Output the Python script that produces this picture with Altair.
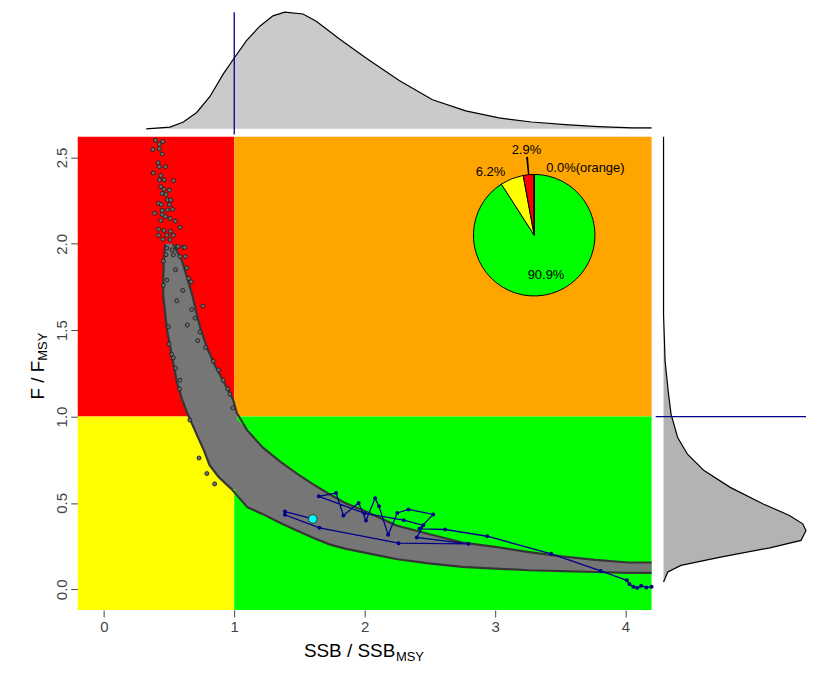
import math
import altair as alt
import pandas as pd

# ---------------- axes / layout constants ----------------
X_DOM = [-0.2, 4.2]
Y_DOM = [-0.12, 2.62]
W, H = 576, 475
TOP_H = 117
RIGHT_W = 143
FONT = "Liberation Sans"
NAVY = "#00008B"
CLOUD = "#767676"
EDGE = "#363636"
DENS_FILL = "#B3B3B3"

# ---------------- data ----------------
# Kobe quadrants
zone_names = ["red", "orange", "yellow", "green"]
zone_x0 = [-0.2, 1.0, -0.2, 1.0]
zone_x1 = [1.0, 4.2, 1.0, 4.2]
zone_y0 = [1.0, 1.0, -0.12, -0.12]
zone_y1 = [2.62, 2.62, 1.0, 1.0]
zone_fill = ["#FF0000", "#FFA500", "#FFFF00", "#00FF00"]

# MCMC cloud, steep (upper-left) part: SSB range for each F
steep_F = [2.0, 1.9, 1.8, 1.7, 1.6, 1.5, 1.4, 1.3, 1.2, 1.1, 1.02, 0.9, 0.8, 0.72, 0.65, 0.58]
steep_left = [0.47, 0.46, 0.455, 0.455, 0.47, 0.485, 0.51, 0.535, 0.56, 0.60, 0.64, 0.71, 0.77, 0.81, 0.88, 0.98]
steep_right = [0.53, 0.60, 0.64, 0.68, 0.71, 0.745, 0.79, 0.85, 0.92, 0.99, 1.02, 1.02, 1.02, 1.02, 1.02, 1.02]
N_STEEP_EDGE = 11  # right side is a real edge only down to F = 1.02

# MCMC cloud, flat (lower-right) part: F range for each SSB
flat_x = [1.0, 1.1, 1.22, 1.35, 1.48, 1.6, 1.73, 1.85, 1.98, 2.24, 2.49, 2.75, 3.0, 3.26, 3.51, 3.77, 4.02, 4.2]
flat_lower = [0.58, 0.475, 0.435, 0.385, 0.34, 0.30, 0.26, 0.235, 0.215, 0.175, 0.15, 0.13, 0.12, 0.11, 0.105, 0.10, 0.095, 0.095]
flat_upper = [1.0, 0.92, 0.82, 0.74, 0.67, 0.61, 0.55, 0.50, 0.46, 0.37, 0.32, 0.27, 0.245, 0.215, 0.19, 0.17, 0.155, 0.155]

# scattered MCMC points (top of the cloud and along its edges)
tip_x = [0.396, 0.426, 0.452, 0.376, 0.426, 0.447, 0.416, 0.426, 0.472, 0.38, 0.437, 0.426, 0.462, 0.533,
         0.437, 0.462, 0.503, 0.447, 0.477, 0.42, 0.487, 0.513, 0.44, 0.503, 0.39, 0.447, 0.487, 0.528,
         0.447, 0.472, 0.508, 0.548, 0.437, 0.584, 0.42, 0.462, 0.513, 0.42, 0.483, 0.533, 0.452, 0.508,
         0.564, 0.61, 0.483, 0.523, 0.477, 0.533, 0.584, 0.625, 0.57, 0.62, 0.67, 0.76, 0.65, 0.457, 0.55,
         0.66, 0.73, 0.79, 0.85, 0.64, 0.72,
         0.495, 0.533, 0.584, 0.457, 0.483, 0.674, 0.737, 0.839, 0.915, 0.966, 0.99, 0.605, 0.636, 0.559,
         0.50, 0.52, 0.55, 0.58, 0.70, 0.78, 0.88, 0.95]
tip_F = [2.60, 2.577, 2.593, 2.546, 2.55, 2.52, 2.47, 2.447, 2.447, 2.41, 2.396, 2.37, 2.37, 2.366,
         2.331, 2.316, 2.311, 2.292, 2.285, 2.235, 2.254, 2.254, 2.227, 2.227, 2.177, 2.193, 2.196, 2.20,
         2.17, 2.158, 2.147, 2.131, 2.135, 2.096, 2.085, 2.077, 2.073, 2.05, 2.05, 2.05, 2.027, 2.023,
         1.98, 1.98, 1.975, 1.965, 1.937, 1.937, 1.927, 1.927, 1.985, 1.98, 1.78, 1.64, 1.80, 1.76, 1.85,
         0.98, 0.76, 0.67, 0.61, 1.53, 1.44,
         1.52, 1.34, 1.21, 1.90, 1.79, 1.62, 1.49, 1.32, 1.21, 1.13, 1.05, 1.73, 1.86, 1.67,
         1.42, 1.36, 1.28, 1.16, 1.57, 1.40, 1.27, 1.16]

# stock trajectory (first year at the right)
traj_x = [4.20, 4.16, 4.12, 4.09, 4.06, 4.03, 4.01, 3.81, 3.43, 2.94, 2.617, 2.42, 2.525, 2.336, 2.25,
          2.18, 2.11, 2.08, 2.01, 1.954, 1.837, 1.781, 1.649, 2.0, 2.3, 2.45, 2.40, 2.795, 2.26, 1.654,
          1.389, 1.389, 1.603]
traj_F = [0.015, 0.010, 0.020, 0.008, 0.015, 0.030, 0.052, 0.106, 0.205, 0.307, 0.346, 0.35, 0.433, 0.462,
          0.442, 0.315, 0.48, 0.527, 0.398, 0.50, 0.427, 0.557, 0.538, 0.44, 0.40, 0.37, 0.30, 0.263,
          0.267, 0.356, 0.431, 0.450, 0.407]

# pie of probabilities
pie_zone = ["green", "yellow", "red", "orange"]
pie_pct = [90.9, 6.2, 2.9, 0.0]
pie_label = ["90.9%", "6.2%", "2.9%", "0.0%(orange)"]
PIE_X, PIE_Y = 3.30, 2.05

# marginal densities (relative heights)
top_ssb = [0.325, 0.508, 0.61, 0.712, 0.814, 0.915, 1.0, 1.094, 1.196, 1.297, 1.387, 1.527, 1.629,
           1.807, 2.01, 2.265, 2.52, 2.775, 3.03, 3.28, 3.54, 3.79, 4.05, 4.2]
top_dens = [0.0, 0.014, 0.058, 0.14, 0.277, 0.469, 0.607, 0.757, 0.88, 0.969, 1.0, 0.985, 0.922,
            0.771, 0.607, 0.414, 0.249, 0.154, 0.093, 0.058, 0.035, 0.019, 0.008, 0.008]
right_F = [2.62, 1.59, 1.32, 1.13, 1.013, 0.879, 0.782, 0.687, 0.59, 0.494, 0.427, 0.379, 0.34,
           0.283, 0.24, 0.186, 0.138, 0.10, 0.042]
right_dens = [0.0, 0.0, 0.011, 0.035, 0.053, 0.099, 0.168, 0.284, 0.468, 0.70, 0.884, 0.977, 1.0,
              0.965, 0.746, 0.40, 0.122, 0.03, 0.0]

REF_SSB = 1.0
REF_F = 1.0

# ---------------- tables ----------------
zones_df = pd.DataFrame({"zone": zone_names, "x0": zone_x0, "x1": zone_x1, "y0": zone_y0, "y1": zone_y1})
steep_df = pd.DataFrame({"F": steep_F, "left": steep_left, "right": steep_right})
flat_df = pd.DataFrame({"x": flat_x, "lower": flat_lower, "upper": flat_upper})

edge_rows = []
k = 0
for xv, fv in zip(steep_left, steep_F):
    edge_rows.append({"edge": "L", "i": k, "x": xv, "F": fv}); k += 1
for xv, fv in zip(flat_x[1:], flat_lower[1:]):
    edge_rows.append({"edge": "L", "i": k, "x": xv, "F": fv}); k += 1
k = 0
for xv, fv in zip(steep_right[:N_STEEP_EDGE], steep_F[:N_STEEP_EDGE]):
    edge_rows.append({"edge": "R", "i": k, "x": xv, "F": fv}); k += 1
for xv, fv in zip(flat_x[1:], flat_upper[1:]):
    edge_rows.append({"edge": "R", "i": k, "x": xv, "F": fv}); k += 1
edge_df = pd.DataFrame(edge_rows)

tip_df = pd.DataFrame({"x": tip_x, "F": tip_F})
traj_df = pd.DataFrame({"x": traj_x, "F": traj_F, "i": list(range(len(traj_x)))})
last_df = traj_df.tail(1)

cum = [0.0]
for p in pie_pct:
    cum.append(cum[-1] + p)
pie_df = pd.DataFrame({
    "zone": pie_zone, "pct": pie_pct, "label": pie_label,
    "t0": [2 * math.pi * c / 100 for c in cum[:-1]],
    "t1": [2 * math.pi * c / 100 for c in cum[1:]],
})
pie_df["mid"] = (pie_df["t0"] + pie_df["t1"]) / 2
lead_df = pie_df[pie_df["zone"] == "red"].copy()
lead_df["a0"] = lead_df["mid"] - 0.012
lead_df["a1"] = lead_df["mid"] + 0.012

top_df = pd.DataFrame({"s": top_ssb, "h": top_dens})
right_df = pd.DataFrame({"F": right_F, "h": right_dens})
right_df = right_df.sort_values("F").reset_index(drop=True)
right_df["base"] = 0.0

# ---------------- main panel ----------------
xs = alt.Scale(domain=X_DOM, nice=False, zero=False)
ys = alt.Scale(domain=Y_DOM, nice=False, zero=False)
zone_color = alt.Scale(domain=zone_names, range=zone_fill)

x_axis = alt.Axis(values=[0, 1, 2, 3, 4], title=None, domain=False, grid=False, tickSize=7,
                  tickColor="#444444", labelColor="#444444", labelFontSize=15, labelFont=FONT,
                  labelPadding=3, format="d")
y_axis = alt.Axis(values=[0, 0.5, 1.0, 1.5, 2.0, 2.5], title=None, domain=False, grid=False, tickSize=7,
                  tickColor="#444444", labelColor="#444444", labelFontSize=15, labelFont=FONT,
                  labelPadding=4, format=".1f", labelAngle=270, labelAlign="center",
                  labelBaseline="alphabetic")


def X(field, **kw):
    return alt.X(field, scale=xs, axis=x_axis, **kw)


def Y(field, **kw):
    return alt.Y(field, scale=ys, axis=y_axis, **kw)


zones = alt.Chart(zones_df).mark_rect().encode(
    x=X("x0:Q"), x2="x1:Q", y=Y("y0:Q"), y2="y1:Q",
    color=alt.Color("zone:N", scale=zone_color, legend=None),
)
flat = alt.Chart(flat_df).mark_area(orient="vertical", color=CLOUD).encode(
    x=X("x:Q"), y=Y("lower:Q", stack=None), y2="upper:Q",
)
# the path is sorted on x, so x takes the side that is monotonic in F
steep = alt.Chart(steep_df).mark_area(orient="horizontal", color=CLOUD).encode(
    y=Y("F:Q"), x=X("right:Q", stack=None), x2="left:Q",
)
edges = alt.Chart(edge_df).mark_line(color=EDGE, strokeWidth=2.2).encode(
    x=X("x:Q"), y=Y("F:Q"), detail="edge:N", order="i:Q",
)
tips = alt.Chart(tip_df).mark_circle(size=16, color="#6e6e6e", stroke="#1e1e1e",
                                      strokeWidth=0.9, opacity=1).encode(x=X("x:Q"), y=Y("F:Q"))
traj_line = alt.Chart(traj_df).mark_line(color=NAVY, strokeWidth=1.3).encode(
    x=X("x:Q"), y=Y("F:Q"), order="i:Q",
)
traj_pts = alt.Chart(traj_df).mark_circle(size=16, color=NAVY, opacity=1).encode(x=X("x:Q"), y=Y("F:Q"))
last_pt = alt.Chart(last_df).mark_circle(size=75, color="#00FFFF", stroke="#333333",
                                         strokeWidth=1, opacity=1).encode(x=X("x:Q"), y=Y("F:Q"))

px = alt.XDatum(PIE_X, type="quantitative", scale=xs, axis=x_axis)
py = alt.YDatum(PIE_Y, type="quantitative", scale=ys, axis=y_axis)

pie = alt.Chart(pie_df).mark_arc(radius=61, stroke="black", strokeWidth=1).encode(
    x=px, y=py,
    theta=alt.Theta("t0:Q", scale=None), theta2="t1:Q",
    color=alt.Color("zone:N", scale=zone_color, legend=None),
)
leader = alt.Chart(lead_df).mark_arc(radius=79, radius2=61, color="black").encode(
    x=px, y=py, theta=alt.Theta("a0:Q", scale=None), theta2="a1:Q",
)


def pie_text(zone, radius, align, dx=0):
    return alt.Chart(pie_df).transform_filter(alt.datum.zone == zone).mark_text(
        radius=radius, align=align, baseline="middle", fontSize=13, font=FONT, color="black", dx=dx,
    ).encode(x=px, y=py, theta=alt.Theta("mid:Q", scale=None), text="label:N")


t_green = pie_text("green", 42, "center")
t_yellow = pie_text("yellow", 68, "right", -4)
t_red = pie_text("red", 86, "center")
t_orange = pie_text("orange", 67, "left", 12)

# axis titles with subscripts
title_df = pd.DataFrame({
    "txt": ["SSB / SSB", "MSY"],
    "x": [2.235, 2.24],
    "F": [-0.395, -0.415],
    "part": ["main", "sub"],
})
ytitle_df = pd.DataFrame({
    "txt": ["F / F", "MSY"],
    "x": [-0.462, -0.435],
    "F": [1.323, 1.323],
    "part": ["main", "sub"],
})


def title_part(df, part, size, align, angle=0):
    return alt.Chart(df).transform_filter(alt.datum.part == part).mark_text(
        fontSize=size, font=FONT, color="black", align=align, baseline="alphabetic", angle=angle,
    ).encode(x=X("x:Q"), y=Y("F:Q"), text="txt:N")


xt_main = title_part(title_df, "main", 19, "right")
xt_sub = title_part(title_df, "sub", 13, "left")
yt_main = title_part(ytitle_df, "main", 19, "right", 270)
yt_sub = title_part(ytitle_df, "sub", 13, "left", 270)

main = alt.layer(
    zones, flat, steep, edges, tips, traj_line, traj_pts, last_pt,
    pie, leader, t_green, t_yellow, t_red, t_orange,
    xt_main, xt_sub, yt_main, yt_sub,
).properties(width=W, height=H)

# ---------------- top density ----------------
hs = alt.Scale(domain=[0, 1], nice=False, zero=False)
top_area = alt.Chart(top_df).mark_area(
    color=DENS_FILL, line=alt.OverlayMarkDef(color="black", strokeWidth=1.2)
).encode(
    x=alt.X("s:Q", scale=xs, axis=None), y=alt.Y("h:Q", scale=hs, axis=None, stack=None),
)
top_rule = alt.Chart(pd.DataFrame({"s": [REF_SSB], "lo": [-0.05], "hi": [1.0]})).mark_rule(
    color=NAVY, strokeWidth=1.3
).encode(
    x=alt.X("s:Q", scale=xs, axis=None), y=alt.Y("lo:Q", scale=hs, axis=None), y2="hi:Q",
)
top = alt.layer(top_area, top_rule).properties(width=W, height=TOP_H)

# ---------------- right density ----------------
right_fill = alt.Chart(right_df).mark_area(orient="horizontal", color=DENS_FILL).encode(
    y=alt.Y("F:Q", scale=ys, axis=None),
    x=alt.X("base:Q", scale=hs, axis=None, stack=None), x2="h:Q",
)
right_line = alt.Chart(right_df).mark_line(color="black", strokeWidth=1.2).encode(
    y=alt.Y("F:Q", scale=ys, axis=None),
    x=alt.X("h:Q", scale=hs, axis=None),
    order=alt.Order("F:Q"),
)
right_rule = alt.Chart(pd.DataFrame({"F": [REF_F], "lo": [-0.055], "hi": [1.0]})).mark_rule(
    color=NAVY, strokeWidth=1.3
).encode(
    y=alt.Y("F:Q", scale=ys, axis=None), x=alt.X("lo:Q", scale=hs, axis=None), x2="hi:Q",
)
right = alt.layer(right_fill, right_line, right_rule).properties(width=RIGHT_W, height=H)

bottom = alt.hconcat(main, right, spacing=12, bounds="flush").resolve_scale(x="independent", y="independent")
chart = alt.vconcat(top, bottom, spacing=8, bounds="flush").resolve_scale(
    x="independent", y="independent"
).properties(
    padding={"left": 20, "top": 0, "right": 0, "bottom": 4},
    background="white",
).configure_view(stroke=None)

chart.save("out.html", embed_options={"renderer": "svg", "actions": False})
